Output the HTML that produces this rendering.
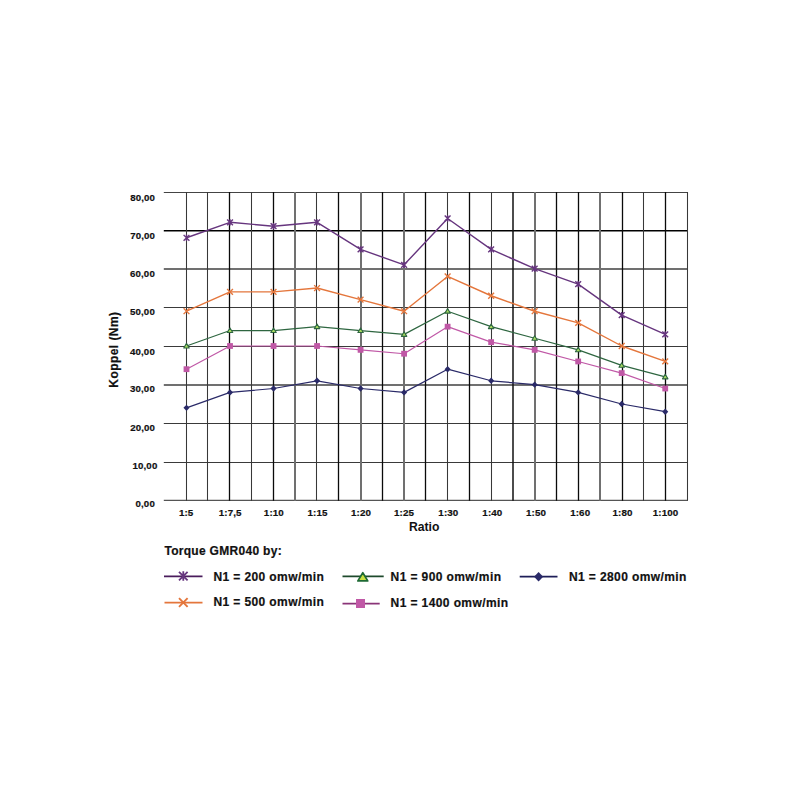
<!DOCTYPE html><html><head><meta charset="utf-8"><style>
html,body{margin:0;padding:0;background:#fff;width:800px;height:800px;overflow:hidden}
svg{position:absolute;left:0;top:0}
text{font-family:"Liberation Sans",sans-serif;font-weight:bold;fill:#111;stroke:#111;stroke-width:0.2px}
</style></head><body>
<svg width="800" height="800" viewBox="0 0 800 800">
<g><line x1="163.8" y1="192.5" x2="687.8" y2="192.5" stroke="#444" stroke-width="1.0"/><line x1="163.8" y1="230.7" x2="687.8" y2="230.7" stroke="#000" stroke-width="1.4"/><line x1="163.8" y1="269.0" x2="687.8" y2="269.0" stroke="#707070" stroke-width="2.0"/><line x1="163.8" y1="307.5" x2="687.8" y2="307.5" stroke="#3a3a3a" stroke-width="1.05"/><line x1="163.8" y1="346.5" x2="687.8" y2="346.5" stroke="#3a3a3a" stroke-width="1.05"/><line x1="163.8" y1="385.0" x2="687.8" y2="385.0" stroke="#707070" stroke-width="2.0"/><line x1="163.8" y1="423.5" x2="687.8" y2="423.5" stroke="#3a3a3a" stroke-width="1.05"/><line x1="163.8" y1="462.5" x2="687.8" y2="462.5" stroke="#3a3a3a" stroke-width="1.05"/><line x1="163.8" y1="500.3" x2="687.8" y2="500.3" stroke="#555" stroke-width="1.3"/><line x1="186.5" y1="192" x2="186.5" y2="500.8" stroke="#383838" stroke-width="1.05"/><line x1="207.5" y1="192" x2="207.5" y2="500.8" stroke="#383838" stroke-width="1.05"/><line x1="229.5" y1="192" x2="229.5" y2="500.8" stroke="#0a0a0a" stroke-width="1.3"/><line x1="251.5" y1="192" x2="251.5" y2="500.8" stroke="#383838" stroke-width="1.05"/><line x1="273.5" y1="192" x2="273.5" y2="500.8" stroke="#0a0a0a" stroke-width="1.3"/><line x1="295" y1="192" x2="295" y2="500.8" stroke="#707070" stroke-width="2.0"/><line x1="316.5" y1="192" x2="316.5" y2="500.8" stroke="#383838" stroke-width="1.05"/><line x1="338.5" y1="192" x2="338.5" y2="500.8" stroke="#0a0a0a" stroke-width="1.3"/><line x1="361" y1="192" x2="361" y2="500.8" stroke="#707070" stroke-width="2.0"/><line x1="382.5" y1="192" x2="382.5" y2="500.8" stroke="#0a0a0a" stroke-width="1.3"/><line x1="404" y1="192" x2="404" y2="500.8" stroke="#707070" stroke-width="2.0"/><line x1="425.5" y1="192" x2="425.5" y2="500.8" stroke="#0a0a0a" stroke-width="1.3"/><line x1="447.5" y1="192" x2="447.5" y2="500.8" stroke="#383838" stroke-width="1.05"/><line x1="469.5" y1="192" x2="469.5" y2="500.8" stroke="#0a0a0a" stroke-width="1.3"/><line x1="491.5" y1="192" x2="491.5" y2="500.8" stroke="#383838" stroke-width="1.05"/><line x1="513" y1="192" x2="513" y2="500.8" stroke="#111" stroke-width="1.5"/><line x1="535" y1="192" x2="535" y2="500.8" stroke="#707070" stroke-width="2.0"/><line x1="556.5" y1="192" x2="556.5" y2="500.8" stroke="#0a0a0a" stroke-width="1.3"/><line x1="578.5" y1="192" x2="578.5" y2="500.8" stroke="#0a0a0a" stroke-width="1.3"/><line x1="600" y1="192" x2="600" y2="500.8" stroke="#707070" stroke-width="2.0"/><line x1="622.5" y1="192" x2="622.5" y2="500.8" stroke="#0a0a0a" stroke-width="1.3"/><line x1="643.5" y1="192" x2="643.5" y2="500.8" stroke="#383838" stroke-width="1.05"/><line x1="665.5" y1="192" x2="665.5" y2="500.8" stroke="#0a0a0a" stroke-width="1.3"/><line x1="687.5" y1="192" x2="687.5" y2="500.8" stroke="#383838" stroke-width="1.05"/></g>
<text x="155.15" y="200.80" font-size="9.7" letter-spacing="0.15" text-anchor="end">80,00</text>
<text x="155.15" y="238.80" font-size="9.7" letter-spacing="0.15" text-anchor="end">70,00</text>
<text x="154.95000000000002" y="277.10" font-size="9.7" letter-spacing="0.15" text-anchor="end">60,00</text>
<text x="154.95000000000002" y="315.30" font-size="9.7" letter-spacing="0.15" text-anchor="end">50,00</text>
<text x="154.95000000000002" y="354.50" font-size="9.7" letter-spacing="0.15" text-anchor="end">40,00</text>
<text x="154.95000000000002" y="392.30" font-size="9.7" letter-spacing="0.15" text-anchor="end">30,00</text>
<text x="155.15" y="430.70" font-size="9.7" letter-spacing="0.15" text-anchor="end">20,00</text>
<text x="157.45000000000002" y="468.80" font-size="9.7" letter-spacing="0.15" text-anchor="end">10,00</text>
<text x="154.95000000000002" y="506.70" font-size="9.7" letter-spacing="0.15" text-anchor="end">0,00</text>
<text x="186.2" y="516.3" font-size="9.8" letter-spacing="0.12" text-anchor="middle">1:5</text>
<text x="230.2" y="516.3" font-size="9.8" letter-spacing="0.12" text-anchor="middle">1:7,5</text>
<text x="273.90000000000003" y="516.3" font-size="9.8" letter-spacing="0.12" text-anchor="middle">1:10</text>
<text x="317.6" y="516.3" font-size="9.8" letter-spacing="0.12" text-anchor="middle">1:15</text>
<text x="361.1" y="516.3" font-size="9.8" letter-spacing="0.12" text-anchor="middle">1:20</text>
<text x="404.1" y="516.3" font-size="9.8" letter-spacing="0.12" text-anchor="middle">1:25</text>
<text x="448.40000000000003" y="516.3" font-size="9.8" letter-spacing="0.12" text-anchor="middle">1:30</text>
<text x="492.40000000000003" y="516.3" font-size="9.8" letter-spacing="0.12" text-anchor="middle">1:40</text>
<text x="536.0" y="516.3" font-size="9.8" letter-spacing="0.12" text-anchor="middle">1:50</text>
<text x="580.2" y="516.3" font-size="9.8" letter-spacing="0.12" text-anchor="middle">1:60</text>
<text x="622.6" y="516.3" font-size="9.8" letter-spacing="0.12" text-anchor="middle">1:80</text>
<text x="665.6" y="516.3" font-size="9.8" letter-spacing="0.12" text-anchor="middle">1:100</text>
<text x="424.2" y="530.9" font-size="12.2" text-anchor="middle" style="stroke-width:0">Ratio</text>
<text transform="translate(118.2,349.6) rotate(-90)" font-size="12" letter-spacing="0.43" text-anchor="middle">Koppel (Nm)</text>
<polyline points="186.50,407.84 230.02,392.38 273.54,388.51 317.06,380.79 360.58,388.51 404.10,392.38 447.62,369.19 491.14,380.79 534.66,384.65 578.18,392.38 621.70,403.98 665.22,411.71" fill="none" stroke="#2a2a68" stroke-width="1.2" stroke-linejoin="round"/>
<polyline points="186.50,369.19 230.02,346.00 273.54,346.00 317.06,346.00 360.58,349.87 404.10,353.73 447.62,326.68 491.14,342.13 534.66,349.87 578.18,361.46 621.70,373.06 665.22,388.51" fill="none" stroke="#c058a6" stroke-width="1.2" stroke-linejoin="round"/>
<polyline points="186.50,346.00 230.02,330.54 273.54,330.54 317.06,326.68 360.58,330.54 404.10,334.40 447.62,311.22 491.14,326.68 534.66,338.27 578.18,349.87 621.70,365.33 665.22,376.92" fill="none" stroke="#2e6640" stroke-width="1.2" stroke-linejoin="round"/>
<polyline points="186.50,311.22 230.02,291.89 273.54,291.89 317.06,288.02 360.58,299.62 404.10,311.22 447.62,276.43 491.14,295.75 534.66,311.22 578.18,322.81 621.70,346.00 665.22,361.46" fill="none" stroke="#e4763c" stroke-width="1.4" stroke-linejoin="round"/>
<polyline points="186.50,237.78 230.02,222.32 273.54,226.19 317.06,222.32 360.58,249.38 404.10,264.84 447.62,218.45 491.14,249.38 534.66,268.70 578.18,284.16 621.70,315.08 665.22,334.40" fill="none" stroke="#66357e" stroke-width="1.4" stroke-linejoin="round"/>
<path d="M186.50,404.64L189.54,407.84L186.50,411.04L183.46,407.84Z" fill="#2a2a68"/>
<path d="M230.02,389.18L233.06,392.38L230.02,395.58L226.98,392.38Z" fill="#2a2a68"/>
<path d="M273.54,385.31L276.58,388.51L273.54,391.71L270.50,388.51Z" fill="#2a2a68"/>
<path d="M317.06,377.59L320.10,380.79L317.06,383.99L314.02,380.79Z" fill="#2a2a68"/>
<path d="M360.58,385.31L363.62,388.51L360.58,391.71L357.54,388.51Z" fill="#2a2a68"/>
<path d="M404.10,389.18L407.14,392.38L404.10,395.58L401.06,392.38Z" fill="#2a2a68"/>
<path d="M447.62,365.99L450.66,369.19L447.62,372.39L444.58,369.19Z" fill="#2a2a68"/>
<path d="M491.14,377.59L494.18,380.79L491.14,383.99L488.10,380.79Z" fill="#2a2a68"/>
<path d="M534.66,381.45L537.70,384.65L534.66,387.85L531.62,384.65Z" fill="#2a2a68"/>
<path d="M578.18,389.18L581.22,392.38L578.18,395.58L575.14,392.38Z" fill="#2a2a68"/>
<path d="M621.70,400.78L624.74,403.98L621.70,407.18L618.66,403.98Z" fill="#2a2a68"/>
<path d="M665.22,408.51L668.26,411.71L665.22,414.91L662.18,411.71Z" fill="#2a2a68"/>
<rect x="183.60" y="366.29" width="5.80" height="5.80" fill="#c058a6"/>
<rect x="227.12" y="343.10" width="5.80" height="5.80" fill="#c058a6"/>
<rect x="270.64" y="343.10" width="5.80" height="5.80" fill="#c058a6"/>
<rect x="314.16" y="343.10" width="5.80" height="5.80" fill="#c058a6"/>
<rect x="357.68" y="346.97" width="5.80" height="5.80" fill="#c058a6"/>
<rect x="401.20" y="350.83" width="5.80" height="5.80" fill="#c058a6"/>
<rect x="444.72" y="323.78" width="5.80" height="5.80" fill="#c058a6"/>
<rect x="488.24" y="339.24" width="5.80" height="5.80" fill="#c058a6"/>
<rect x="531.76" y="346.97" width="5.80" height="5.80" fill="#c058a6"/>
<rect x="575.28" y="358.56" width="5.80" height="5.80" fill="#c058a6"/>
<rect x="618.80" y="370.16" width="5.80" height="5.80" fill="#c058a6"/>
<rect x="662.32" y="385.62" width="5.80" height="5.80" fill="#c058a6"/>
<path d="M186.50,343.40L189.23,347.95L183.77,347.95Z" stroke="#2e6640" stroke-width="1.1" fill="#a8dc60" stroke-linejoin="round"/>
<path d="M230.02,327.94L232.75,332.49L227.29,332.49Z" stroke="#2e6640" stroke-width="1.1" fill="#a8dc60" stroke-linejoin="round"/>
<path d="M273.54,327.94L276.27,332.49L270.81,332.49Z" stroke="#2e6640" stroke-width="1.1" fill="#a8dc60" stroke-linejoin="round"/>
<path d="M317.06,324.07L319.79,328.62L314.33,328.62Z" stroke="#2e6640" stroke-width="1.1" fill="#a8dc60" stroke-linejoin="round"/>
<path d="M360.58,327.94L363.31,332.49L357.85,332.49Z" stroke="#2e6640" stroke-width="1.1" fill="#a8dc60" stroke-linejoin="round"/>
<path d="M404.10,331.80L406.83,336.35L401.37,336.35Z" stroke="#2e6640" stroke-width="1.1" fill="#a8dc60" stroke-linejoin="round"/>
<path d="M447.62,308.62L450.35,313.17L444.89,313.17Z" stroke="#2e6640" stroke-width="1.1" fill="#a8dc60" stroke-linejoin="round"/>
<path d="M491.14,324.07L493.87,328.62L488.41,328.62Z" stroke="#2e6640" stroke-width="1.1" fill="#a8dc60" stroke-linejoin="round"/>
<path d="M534.66,335.67L537.39,340.22L531.93,340.22Z" stroke="#2e6640" stroke-width="1.1" fill="#a8dc60" stroke-linejoin="round"/>
<path d="M578.18,347.26L580.91,351.81L575.45,351.81Z" stroke="#2e6640" stroke-width="1.1" fill="#a8dc60" stroke-linejoin="round"/>
<path d="M621.70,362.73L624.43,367.28L618.97,367.28Z" stroke="#2e6640" stroke-width="1.1" fill="#a8dc60" stroke-linejoin="round"/>
<path d="M665.22,374.32L667.95,378.87L662.49,378.87Z" stroke="#2e6640" stroke-width="1.1" fill="#a8dc60" stroke-linejoin="round"/>
<path d="M183.60,308.32L189.40,314.12M183.60,314.12L189.40,308.32" stroke="#e4763c" stroke-width="1.4" fill="none"/>
<path d="M227.12,288.99L232.92,294.79M227.12,294.79L232.92,288.99" stroke="#e4763c" stroke-width="1.4" fill="none"/>
<path d="M270.64,288.99L276.44,294.79M270.64,294.79L276.44,288.99" stroke="#e4763c" stroke-width="1.4" fill="none"/>
<path d="M314.16,285.12L319.96,290.92M314.16,290.92L319.96,285.12" stroke="#e4763c" stroke-width="1.4" fill="none"/>
<path d="M357.68,296.72L363.48,302.52M357.68,302.52L363.48,296.72" stroke="#e4763c" stroke-width="1.4" fill="none"/>
<path d="M401.20,308.32L407.00,314.12M401.20,314.12L407.00,308.32" stroke="#e4763c" stroke-width="1.4" fill="none"/>
<path d="M444.72,273.53L450.52,279.33M444.72,279.33L450.52,273.53" stroke="#e4763c" stroke-width="1.4" fill="none"/>
<path d="M488.24,292.86L494.04,298.65M488.24,298.65L494.04,292.86" stroke="#e4763c" stroke-width="1.4" fill="none"/>
<path d="M531.76,308.32L537.56,314.12M531.76,314.12L537.56,308.32" stroke="#e4763c" stroke-width="1.4" fill="none"/>
<path d="M575.28,319.91L581.08,325.71M575.28,325.71L581.08,319.91" stroke="#e4763c" stroke-width="1.4" fill="none"/>
<path d="M618.80,343.10L624.60,348.90M618.80,348.90L624.60,343.10" stroke="#e4763c" stroke-width="1.4" fill="none"/>
<path d="M662.32,358.56L668.12,364.36M662.32,364.36L668.12,358.56" stroke="#e4763c" stroke-width="1.4" fill="none"/>
<path d="M183.60,234.88L189.40,240.68M183.60,240.68L189.40,234.88M186.50,234.59L186.50,240.97" stroke="#66357e" stroke-width="1.4" fill="none"/>
<path d="M227.12,219.42L232.92,225.22M227.12,225.22L232.92,219.42M230.02,219.13L230.02,225.51" stroke="#66357e" stroke-width="1.4" fill="none"/>
<path d="M270.64,223.28L276.44,229.09M270.64,229.09L276.44,223.28M273.54,223.00L273.54,229.38" stroke="#66357e" stroke-width="1.4" fill="none"/>
<path d="M314.16,219.42L319.96,225.22M314.16,225.22L319.96,219.42M317.06,219.13L317.06,225.51" stroke="#66357e" stroke-width="1.4" fill="none"/>
<path d="M357.68,246.47L363.48,252.28M357.68,252.28L363.48,246.47M360.58,246.19L360.58,252.56" stroke="#66357e" stroke-width="1.4" fill="none"/>
<path d="M401.20,261.94L407.00,267.74M401.20,267.74L407.00,261.94M404.10,261.65L404.10,268.03" stroke="#66357e" stroke-width="1.4" fill="none"/>
<path d="M444.72,215.55L450.52,221.35M444.72,221.35L450.52,215.55M447.62,215.26L447.62,221.64" stroke="#66357e" stroke-width="1.4" fill="none"/>
<path d="M488.24,246.47L494.04,252.28M488.24,252.28L494.04,246.47M491.14,246.19L491.14,252.56" stroke="#66357e" stroke-width="1.4" fill="none"/>
<path d="M531.76,265.80L537.56,271.60M531.76,271.60L537.56,265.80M534.66,265.51L534.66,271.89" stroke="#66357e" stroke-width="1.4" fill="none"/>
<path d="M575.28,281.26L581.08,287.06M575.28,287.06L581.08,281.26M578.18,280.97L578.18,287.35" stroke="#66357e" stroke-width="1.4" fill="none"/>
<path d="M618.80,312.18L624.60,317.98M618.80,317.98L624.60,312.18M621.70,311.89L621.70,318.27" stroke="#66357e" stroke-width="1.4" fill="none"/>
<path d="M662.32,331.50L668.12,337.30M662.32,337.30L668.12,331.50M665.22,331.21L665.22,337.59" stroke="#66357e" stroke-width="1.4" fill="none"/>
<text x="164.4" y="555.4" font-size="12" letter-spacing="0.3">Torque GMR040 by:</text>
<line x1="164" y1="576.4" x2="202.5" y2="576.4" stroke="#4a1c5c" stroke-width="1.6"/>
<path d="M179.00,571.80L187.60,580.40M179.00,580.40L187.60,571.80M183.30,571.37L183.30,580.83" stroke="#66357e" stroke-width="1.8" fill="none"/>
<text x="213.4" y="581.3" font-size="12" letter-spacing="0.4">N1 = 200 omw/min</text>
<line x1="164.5" y1="602.7" x2="202.5" y2="602.7" stroke="#e4763c" stroke-width="1.7"/>
<path d="M179.00,598.20L187.60,606.80M179.00,606.80L187.60,598.20" stroke="#e4763c" stroke-width="1.9" fill="none"/>
<text x="213.4" y="606.4" font-size="12" letter-spacing="0.4">N1 = 500 omw/min</text>
<line x1="342.5" y1="576.4" x2="383.7" y2="576.4" stroke="#1e4a2c" stroke-width="1.6"/>
<path d="M362.80,572.70L367.74,580.92L357.87,580.92Z" stroke="#1e6a34" stroke-width="1.7" fill="#c8e040" stroke-linejoin="round"/>
<text x="390.6" y="581.3" font-size="12" letter-spacing="0.4">N1 = 900 omw/min</text>
<line x1="342.5" y1="603.6" x2="379.7" y2="603.6" stroke="#8a3478" stroke-width="1.6"/>
<rect x="356.00" y="599.00" width="9.00" height="9.00" fill="#c058a6"/>
<text x="390.6" y="607.2" font-size="12" letter-spacing="0.4">N1 = 1400 omw/min</text>
<line x1="519.7" y1="576.6" x2="557.5" y2="576.6" stroke="#1e1e58" stroke-width="1.8"/>
<path d="M538.60,571.90L543.16,576.70L538.60,581.50L534.04,576.70Z" fill="#2a2a68"/>
<text x="568.9" y="580.9" font-size="12" letter-spacing="0.4">N1 = 2800 omw/min</text>
</svg></body></html>
